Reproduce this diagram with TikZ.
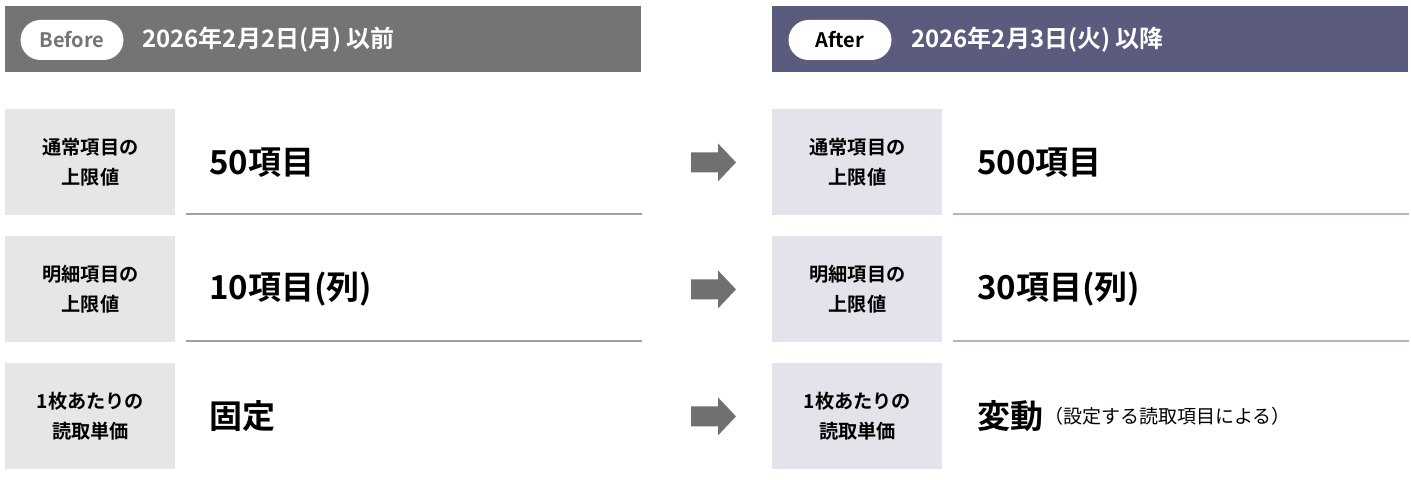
\documentclass[tikz,border=0pt]{standalone}
\usepackage{fontspec}
\usepackage{tikz}
\usetikzlibrary{positioning}
\setmainfont{Noto Sans CJK JP}[BoldFont={Noto Sans CJK JP Bold}]
\definecolor{bfgray}{RGB}{116,116,118}
\definecolor{afnavy}{RGB}{91,91,125}
\definecolor{bflbl}{RGB}{230,230,230}
\definecolor{aflbl}{RGB}{227,227,235}
\definecolor{bfrule}{RGB}{160,160,160}
\definecolor{afrule}{RGB}{180,180,198}
\definecolor{arrgray}{RGB}{112,112,112}

\begin{document}
\begin{tikzpicture}[x=0.5pt, y=-0.5pt,
  hd/.style={rectangle, inner sep=0pt, minimum width=318pt, minimum height=33pt,
             anchor=north west},
  pill/.style={rectangle, rounded corners=10pt, fill=white, inner sep=0pt,
               minimum width=51.5pt, minimum height=20pt, font=\bfseries\fontsize{10}{12}\selectfont},
  htxt/.style={anchor=west, text=white, inner sep=0pt, font=\bfseries\fontsize{12}{14}\selectfont},
  lbl/.style={rectangle, inner sep=0pt, minimum width=85pt, minimum height=53pt,
              anchor=north west, align=center, font=\bfseries\fontsize{9.6}{15}\selectfont},
  val/.style={anchor=west, inner sep=0pt, font=\bfseries\fontsize{16.5}{18}\selectfont},
  rl/.style={line width=1pt},
  arr/.style={fill=arrgray}]
\useasboundingbox (0,0) rectangle (1411,480);

% headers
\node[hd, fill=bfgray] (hb) at (5,6) {};
\node[pill, text=bfgray] (pb) at (72,40) {Before};
\node[htxt, right=9pt of pb] (tb) {2026年2月2日(月) 以前};
\node[hd, fill=afnavy] (ha) at (772,6) {};
\node[pill, text=black] (pa) at (840,40) {After};
\node[htxt, right=9.5pt of pa] (ta) {2026年2月3日(火) 以降};

% before column
\node[lbl, fill=bflbl] (b1) at (5,109) {通常項目の\\上限値};
\node[lbl, fill=bflbl] (b2) at (5,236) {明細項目の\\上限値};
\node[lbl, fill=bflbl] (b3) at (5,363) {1枚あたりの\\読取単価};
\node[val, right=16.5pt of b1] (vb1) {50項目};
\node[val, right=16.5pt of b2] (vb2) {10項目(列)};
\node[val, right=16.5pt of b3] (vb3) {固定};
\draw[rl, bfrule] ([shift={(10,-2)}]b1.south east) -- ([yshift=1pt]b1.south -| hb.east);
\draw[rl, bfrule] ([shift={(10,-2)}]b2.south east) -- ([yshift=1pt]b2.south -| hb.east);

% after column
\node[lbl, fill=aflbl] (a1) at (772,109) {通常項目の\\上限値};
\node[lbl, fill=aflbl] (a2) at (772,236) {明細項目の\\上限値};
\node[lbl, fill=aflbl] (a3) at (772,363) {1枚あたりの\\読取単価};
\node[val, right=17pt of a1] (va1) {500項目};
\node[val, right=17pt of a2] (va2) {30項目(列)};
\node[val, right=17pt of a3] (va3) {変動};
\node[anchor=west, inner sep=0pt, font=\fontsize{9.5}{12}\selectfont, right=0pt of va3] (na3) {（設定する読取項目による）};
\draw[rl, afrule] ([shift={(10,-2)}]a1.south east) -- ([yshift=1pt]a1.south -| ha.east);
\draw[rl, afrule] ([shift={(10,-2)}]a2.south east) -- ([yshift=1pt]a2.south -| ha.east);

% arrows
\foreach \r in {1,2,3} {
  \path (b\r.center) ++(0,0) coordinate (m\r);
  \fill[arr] (691,0 |- m\r) ++(0,-10) -- ++(27,0) -- ++(0,-9) -- ++(18,19)
    -- ++(-18,19) -- ++(0,-9) -- ++(-27,0) -- cycle;
}
\end{tikzpicture}
\end{document}
